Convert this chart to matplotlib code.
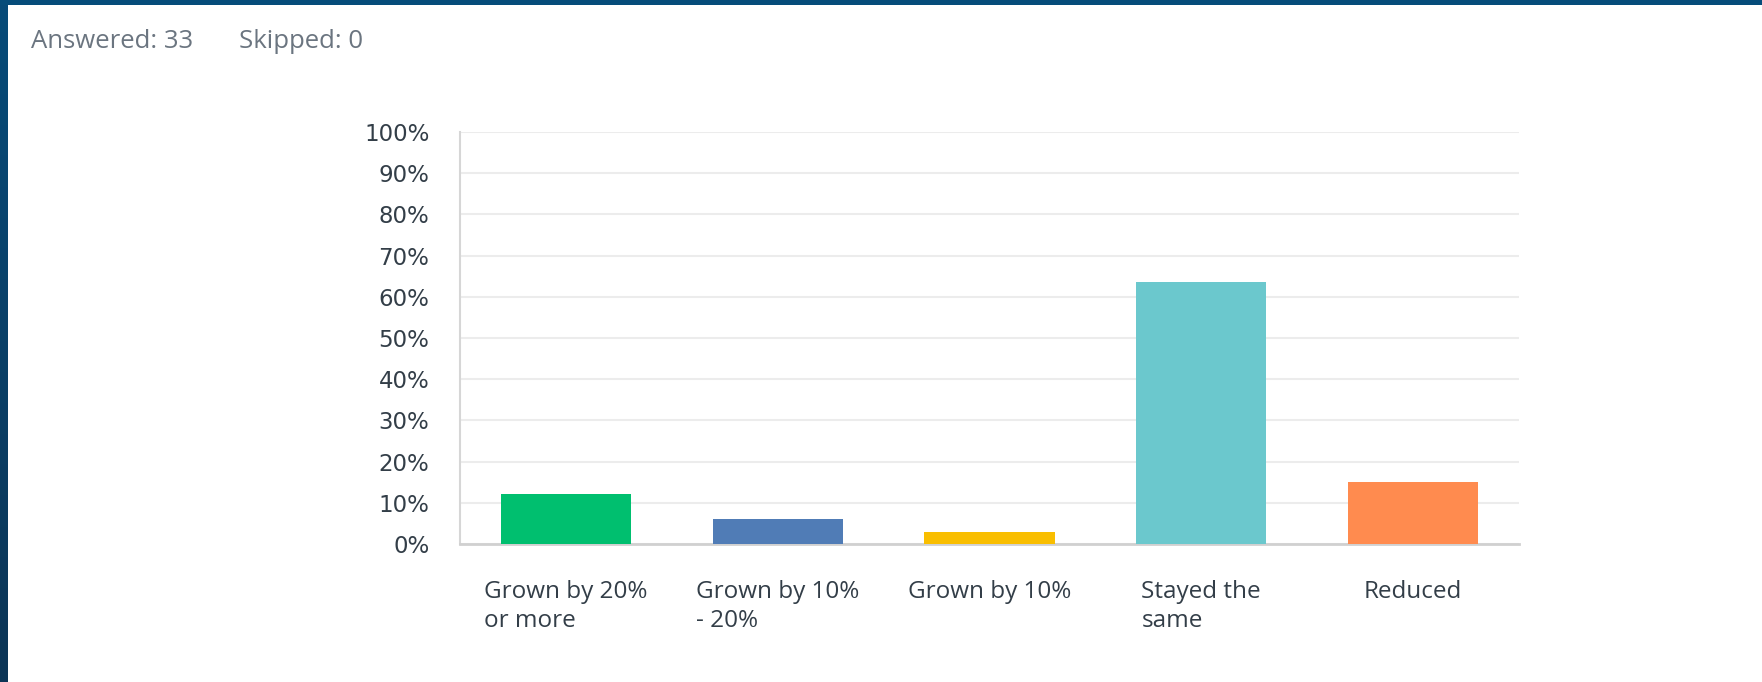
import matplotlib.pyplot as plt
import numpy as np

# answer options and share of the 33 respondents (%)
categories = ["Grown by 20%\nor more", "Grown by 10%\n- 20%", "Grown by 10%", "Stayed the\nsame", "Reduced"]
shares = [12.12, 6.06, 3.03, 63.64, 15.15]
colors = ["#00bf6f", "#507cb6", "#f9be00", "#6bc8cd", "#ff8b4f"]
yticks = list(range(0, 101, 10))
answered = 33
skipped = 0

W, H = 1762, 682
fig = plt.figure(figsize=(W / 100, H / 100), dpi=100)
fig.patch.set_facecolor("white")

# dark blue page frame (top strip and left strip)
frame = fig.add_axes([0, 0, 1, 1], zorder=-10)
frame.axis("off")
frame.add_patch(plt.Rectangle((0, 0), W, 5, color="#064c7a", lw=0))
grad = np.linspace(0, 1, 256).reshape(-1, 1)
frame.imshow(grad, extent=[0, 8, H, 0], aspect="auto",
             cmap=plt.matplotlib.colors.LinearSegmentedColormap.from_list("f", ["#074b79", "#0c3556"]))
frame.set_xlim(0, W)
frame.set_ylim(H, 0)

fig.text(31 / W, 1 - 42 / H, "Answered: %d" % answered, fontsize=18.5, color="#6b7580",
         family="Open Sans", va="center", ha="left")
fig.text(239 / W, 1 - 42 / H, "Skipped: %d" % skipped, fontsize=18.5, color="#6b7580",
         family="Open Sans", va="center", ha="left")

ax = fig.add_axes([460 / W, 138 / H, 1059 / W, 412 / H])
x = np.arange(len(categories))
ax.bar(x, shares, width=0.614, color=colors, zorder=3)
ax.set_xlim(-0.5, len(categories) - 0.5)
ax.set_ylim(0, 100)
ax.set_yticks(yticks)
ax.set_yticklabels(["%d%%" % v for v in yticks], fontsize=16.5, color="#333e48", family="DejaVu Sans")
ax.tick_params(axis="y", length=0, pad=22)
ax.set_xticks([])
ax.grid(axis="y", color="#ececec", lw=1.5, zorder=0)
for s in ["top", "right"]:
    ax.spines[s].set_visible(False)
ax.spines["left"].set_color("#d6d6d6")
ax.spines["left"].set_linewidth(1.5)
ax.spines["bottom"].set_color("#d0d0d0")
ax.spines["bottom"].set_linewidth(2)

for xi, lab in zip(x, categories):
    ax.text(xi, -0.087, lab, transform=ax.get_xaxis_transform(), ha="center", va="top",
            multialignment="left", fontsize=17.5, color="#333e48", family="Open Sans",
            linespacing=1.27)

fig.savefig("out.png", dpi=100)
